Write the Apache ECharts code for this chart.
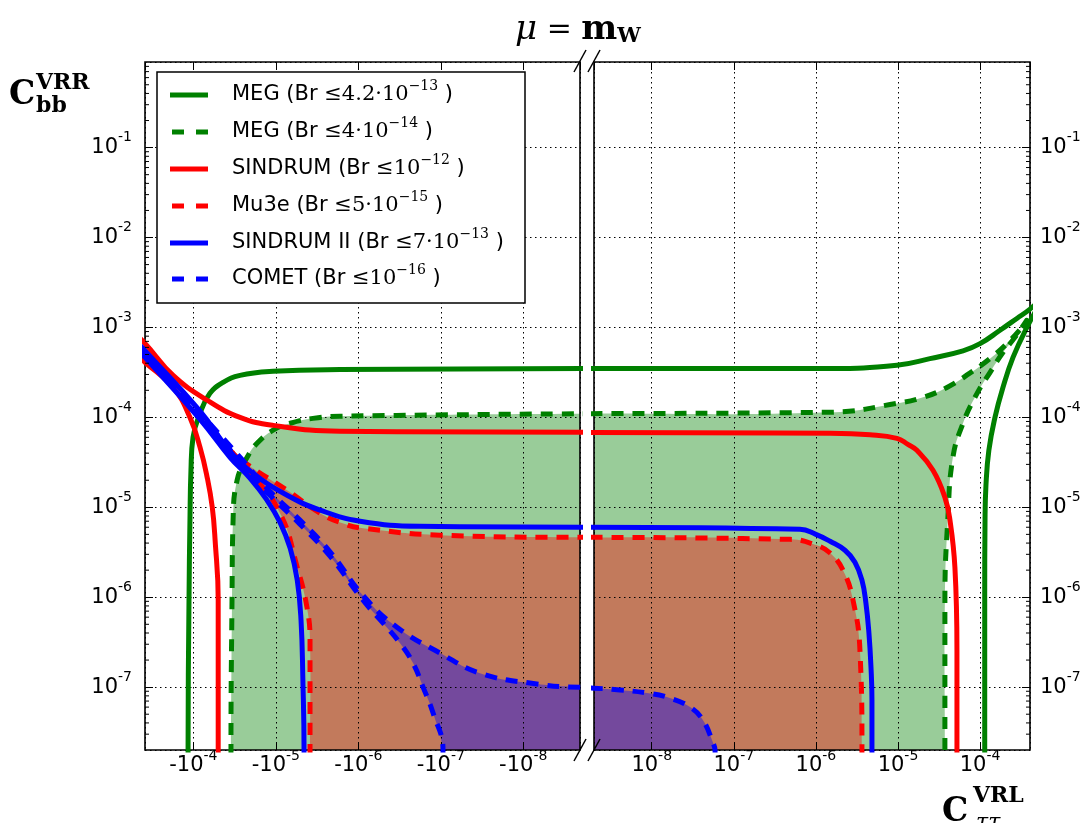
<!DOCTYPE html>
<html><head><meta charset="utf-8">
<script src="https://cdn.jsdelivr.net/npm/echarts@6/dist/echarts.min.js"></script>
<style>html,body{margin:0;padding:0;background:#fff}#c{width:1086px;height:823px}</style>
</head><body><div id="c"></div>
<script>
// ---------------- data ----------------
const legendNames = ['MEG', 'MEG', 'SINDRUM', 'Mu3e', 'SINDRUM II', 'COMET'];
const legendBound = ['4.2\u00b710', '4\u00b710', '10', '5\u00b710', '7\u00b710', '10'];
const legendExp   = ['\u221213', '\u221214', '\u221212', '\u221215', '\u221213', '\u221216'];
const xTickExps = [-8, -7, -6, -5, -4];
const yTickExps = [-7, -6, -5, -4, -3, -2, -1];

// curves: [C_tautau^VRL, C_bb^VRR], ordered along the contour (negative x = left panel)
const megSolid = [
  [-1.16e-4,1e-8],[-1.16e-4,2e-8],[-1.13e-4,9.3e-7],[-1.10e-4,7.2e-6],[-1.07e-4,2.58e-5],[-1.01e-4,6.0e-5],
  [-8.3e-5,1.11e-4],[-6.3e-5,1.85e-4],[-4.36e-5,2.45e-4],[-2.72e-5,2.93e-4],[-1.08e-5,3.25e-4],[-1.67e-6,3.4e-4],[-1e-9,3.5e-4],
  [1e-9,3.5e-4],[1.49e-6,3.5e-4],[9.7e-6,3.8e-4],[2.45e-5,4.5e-4],[6.2e-5,5.5e-4],[1e-4,6.6e-4],[1.75e-4,9.3e-4],
  [2.81e-4,1.26e-3],[4.06e-4,1.6e-3],[6e-4,2.2e-3],
  [3.72e-4,1e-3],[2.52e-4,4.64e-4],[1.9e-4,2.15e-4],[1.52e-4,1e-4],[1.28e-4,4.3e-5],[1.18e-4,1.75e-5],
  [1.15e-4,7.2e-6],[1.14e-4,9.3e-7],[1.14e-4,2e-8],[1.14e-4,1e-8]
];
const megDashed = [
  [-3.5e-5,1e-8],[-3.5e-5,2e-8],[-3.4e-5,9.3e-7],[-3.3e-5,7.2e-6],[-2.95e-5,2e-5],[-2.23e-5,3.6e-5],[-1.69e-5,5.15e-5],
  [-1.08e-5,7.2e-5],[-6.7e-6,8.6e-5],[-3.55e-6,9.75e-5],[-1.67e-6,1.03e-4],[-1e-9,1.1e-4],
  [1e-9,1.1e-4],[1.49e-6,1.14e-4],[9.7e-6,1.43e-4],[2.02e-5,1.67e-4],[3.95e-5,2.15e-4],[7.5e-5,3.1e-4],
  [1.32e-4,4.5e-4],[2.12e-4,6.6e-4],[3.24e-4,1.0e-3],[3.7e-4,1.2e-3],
  [2.66e-4,7.75e-4],[1.9e-4,5.27e-4],[1.32e-4,3.15e-4],[9.2e-5,1.85e-4],[6.2e-5,8.6e-5],[4.67e-5,3.6e-5],
  [4.06e-5,7.75e-6],[3.73e-5,9.3e-7],[3.73e-5,2e-8],[3.73e-5,1e-8]
];
const sindrum = [
  [-5e-5,1e-8],[-5e-5,2e-8],[-5e-5,9.3e-7],[-5.45e-5,4.3e-6],[-5.9e-5,1e-5],[-6.8e-5,2.15e-5],[-8.3e-5,4.64e-5],
  [-1.1e-4,1e-4],[-1.76e-4,2.15e-4],[-3.86e-4,4.1e-4],[-5.85e-4,5.7e-4],
  [-5.85e-4,9.5e-4],[-3.86e-4,6.64e-4],[-1.76e-4,2.93e-4],[-6.8e-5,1.55e-4],[-2.72e-5,1e-4],[-1.08e-5,8.15e-5],
  [-1.67e-6,7.0e-5],[-1e-9,6.8e-5],
  [1e-9,6.8e-5],[1.49e-6,6.65e-5],[4.56e-6,6.4e-5],[9.7e-6,5.85e-5],[1.32e-5,5.0e-5],[1.7e-5,4.3e-5],[2.67e-5,2.58e-5],
  [3.73e-5,1.29e-5],[4.3e-5,7.2e-6],[4.94e-5,2.15e-6],[5.23e-5,2.58e-7],[5.23e-5,2e-8],[5.23e-5,1e-8]
];
const mu3e = [
  [-3.85e-6,1e-8],[-3.85e-6,2e-8],[-3.85e-6,3.33e-7],[-4.2e-6,7.75e-7],[-5.5e-6,2.15e-6],[-8.9e-6,8.6e-6],
  [-2.05e-5,2.45e-5],[-3.4e-5,4.1e-5],
  [-2.05e-5,2.85e-5],[-7.3e-6,1.55e-5],[-2.9e-6,8.6e-6],[-1.45e-6,6.5e-6],[-8.8e-7,5.85e-6],[-1.02e-7,4.9e-6],
  [-2e-9,4.64e-6],[-1e-9,4.64e-6],
  [1e-9,4.64e-6],[4.84e-7,4.4e-6],[1e-6,3.8e-6],[1.49e-6,3.1e-6],[2.14e-6,2e-6],[2.83e-6,9.3e-7],
  [3.44e-6,2.58e-7],[3.64e-6,2e-8],[3.64e-6,1e-8]
];
const sindrumII = [
  [-4.55e-6,1e-8],[-4.55e-6,2e-8],[-4.7e-6,1.2e-7],[-4.95e-6,5.55e-7],[-5.5e-6,1.55e-6],[-6.7e-6,3.5e-6],
  [-8.9e-6,6.8e-6],[-1.28e-5,1.2e-5],[-2.05e-5,2.1e-5],[-3.6e-5,3.6e-5],[-8.3e-5,9.5e-5],[-3.86e-4,4.64e-4],[-5.85e-4,7e-4],
  [-5.85e-4,8.4e-4],[-3.86e-4,5.5e-4],[-8.3e-5,1.17e-4],[-3.6e-5,4.2e-5],[-1.89e-5,2.39e-5],[-7.3e-6,1.36e-5],
  [-2.9e-6,9.3e-6],[-9.5e-7,7.0e-6],[-1.79e-7,6.15e-6],[-1e-9,6.0e-6],
  [1e-9,6e-6],[6.4e-7,5.7e-6],[1e-6,5.0e-6],[1.49e-6,4.19e-6],[2.26e-6,3.33e-6],[2.99e-6,2.45e-6],[3.64e-6,1.55e-6],
  [4.07e-6,8.6e-7],[4.43e-6,3.98e-7],[4.69e-6,1.67e-7],[4.82e-6,7.2e-8],[4.82e-6,2e-8],[4.82e-6,1e-8]
];
const comet = [
  [-9.4e-8,1e-8],[-9.4e-8,2e-8],[-1.24e-7,5.15e-8],[-1.64e-7,1e-7],[-2.17e-7,1.85e-7],[-3.13e-7,3.1e-7],
  [-5e-7,5.15e-7],[-8.8e-7,9.3e-7],[-2.2e-6,2.86e-6],[-5.1e-6,6.5e-6],[-1.28e-5,1.47e-5],[-2.72e-5,3.24e-5],
  [-8.3e-5,1.06e-4],[-3.86e-4,5.0e-4],[-5.85e-4,7.6e-4],
  [-5.85e-4,8.0e-4],[-3.86e-4,5.25e-4],[-8.3e-5,1.12e-4],[-2.72e-5,3.6e-5],[-1.28e-5,1.63e-5],[-5.1e-6,7.2e-6],
  [-2.2e-6,3.2e-6],[-8.8e-7,1.05e-6],[-3.4e-7,4.64e-7],[-1.02e-7,2.39e-7],[-3.35e-8,1.43e-7],[-8.3e-9,1.11e-7],
  [-2e-9,1e-7],[-1e-9,1e-7],
  [1e-9,1e-7],[1.98e-9,9.75e-8],[4.1e-9,9.3e-8],[8.8e-9,8.6e-8],[1.53e-8,7.75e-8],[2.93e-8,6e-8],
  [4.2e-8,4.3e-8],[5.6e-8,2.39e-8],[5.9e-8,2e-8],[6e-8,1e-8]
];

// ---------------- styling / layout ----------------
const curves = [megSolid, megDashed, sindrum, mu3e, sindrumII, comet];
const curveColor = ['#008000', '#008000', '#ff0000', '#ff0000', '#0000ff', '#0000ff'];
const curveDashed = [false, true, false, true, false, true];
const fills = [
  {curve: megDashed, color: 'rgba(0,128,0,0.4)'},
  {curve: mu3e, color: 'rgba(255,0,0,0.4)'},
  {curve: comet, color: 'rgba(0,0,255,0.4)'}
];
const XL = {min: 2.05e-9, max: 3.86e-4};
const XR = {min: 1.98e-9, max: 4.06e-4};
const YR = {min: 2e-8, max: 0.895};
const FAR_X = 1e-11, FLOOR = 1e-10;   // closure of fill polygons, well outside the plot
const SMOOTH = 0.45;
const SANS = 'DejaVu Sans';
const SERIF = 'DejaVu Serif';
const DASH = [12, 9];

function part(pts, side) {
  return side === 0 ? pts.filter(p => p[0] < 0).map(p => [-p[0], p[1]]) : pts.filter(p => p[0] > 0);
}
function isDecade(v, list) {
  const l = Math.log10(v), e = Math.round(l);
  return Math.abs(l - e) < 1e-6 && list.indexOf(e) >= 0 ? e : null;
}
const richTick = {
  a: {fontFamily: SANS, fontSize: 21, color: '#000', lineHeight: 24},
  b: {fontFamily: SANS, fontSize: 14, color: '#000', lineHeight: 14, padding: [0, 0, 20, 0]}
};
function xFmt(prefix) {
  return v => { const e = isDecade(v, xTickExps); return e === null ? '' : '{a|' + prefix + '10}{b|' + e + '}'; };
}
function yFmt(v) { const e = isDecade(v, yTickExps); return e === null ? '' : '{a|10}{b|' + e + '}'; }

const gridLine = {show: true, lineStyle: {color: '#000', width: 1, type: [1.5, 3.5]}};
function xAxis(idx, rng, inverse, pos, labels, prefix) {
  return {
    gridIndex: idx, type: 'log', min: rng.min, max: rng.max, inverse: inverse, position: pos,
    axisLine: {show: false},
    axisTick: {show: true, inside: true, length: 8, lineStyle: {color: '#000', width: 1}},
    axisLabel: labels ? {show: true, formatter: xFmt(prefix), rich: richTick, margin: 4, showMinLabel: false, showMaxLabel: false} : {show: false},
    splitLine: labels ? gridLine : {show: false},
    minorTick: {show: false}
  };
}
function yAxis(idx, pos) {
  return {
    gridIndex: idx, type: 'log', min: YR.min, max: YR.max, position: pos,
    axisLine: {show: false},
    axisTick: {show: true, inside: true, length: 8, lineStyle: {color: '#000', width: 1}},
    axisLabel: {show: true, formatter: yFmt, rich: richTick, margin: pos === 'left' ? 13 : 10, showMinLabel: false, showMaxLabel: false},
    splitLine: gridLine
  };
}

const series = [];
[0, 1].forEach(side => {
  fills.forEach(f => {
    const P = part(f.curve, side);
    const poly = side === 0
      ? P.concat([[FAR_X, P[P.length - 1][1]], [FAR_X, FLOOR], [P[0][0], FLOOR]])
      : [[FAR_X, FLOOR], [FAR_X, P[0][1]]].concat(P, [[P[P.length - 1][0], FLOOR]]);
    series.push({
      type: 'custom', xAxisIndex: side, yAxisIndex: side, clip: true, silent: true, z: -1,
      data: [P[0]],
      renderItem: (params, api) => ({
        type: 'polygon', shape: {points: poly.map(p => api.coord(p)), smooth: SMOOTH},
        style: {fill: f.color}
      })
    });
  });
});
[0, 1].forEach(side => {
  curves.forEach((c, i) => {
    series.push({
      type: 'line', xAxisIndex: side, yAxisIndex: side, data: part(c, side),
      showSymbol: false, symbol: 'none', clip: true, silent: true, z: 3 + i, smooth: SMOOTH,
      lineStyle: {color: curveColor[i], width: 5, type: curveDashed[i] ? DASH : 'solid', cap: 'butt', join: 'round'}
    });
  });
});
// minor ticks of the log y axes
const minorVals = [];
for (let e = -8; e <= -1; e++) for (let k = 2; k <= 9; k++) {
  const v = k * Math.pow(10, e); if (v > YR.min && v < YR.max) minorVals.push(v);
}
[0, 1].forEach(side => {
  series.push({
    type: 'custom', xAxisIndex: side, yAxisIndex: side, silent: true, z: 10, clip: false,
    data: minorVals.map(v => [1e-6, v]),
    renderItem: (params, api) => {
      const cs = params.coordSys;
      const y = api.coord([api.value(0), api.value(1)])[1];
      const x0 = side === 0 ? cs.x : cs.x + cs.width;
      const dx = side === 0 ? 4 : -4;
      return {type: 'line', shape: {x1: x0, y1: y, x2: x0 + dx, y2: y}, style: {stroke: '#000', lineWidth: 1}};
    }
  });
});

// legend and texts as graphics
const graphics = [];
const rowY = [95, 132, 169, 206, 243, 279];
graphics.push({type: 'rect', z: 100, shape: {x: 157, y: 72, width: 368, height: 231},
  style: {fill: '#fff', stroke: '#000', lineWidth: 1.5}});
legendNames.forEach((n, i) => {
  const y = rowY[i];
  graphics.push({type: 'line', z: 101,
    shape: curveDashed[i] ? {x1: 172, y1: y, x2: 208, y2: y} : {x1: 170, y1: y, x2: 208, y2: y},
    style: {stroke: curveColor[i], lineWidth: 5, lineDash: curveDashed[i] ? [12, 12] : null}});
  graphics.push({type: 'text', z: 101, x: 232, y: y,
    style: {text: '{s|' + n + ' (Br }{m|\u2264' + legendBound[i] + '}{p|' + legendExp[i] + '}{s| )}',
      verticalAlign: 'middle', align: 'left',
      rich: {
        s: {fontFamily: SANS, fontSize: 21, fill: '#000', lineHeight: 26},
        m: {fontFamily: SERIF, fontSize: 21, fill: '#000', lineHeight: 26},
        p: {fontFamily: SERIF, fontSize: 14, fill: '#000', lineHeight: 14, padding: [0, 0, 18, 0]}
      }}});
});
// title
graphics.push({type: 'text', x: 578, y: 30, style: {
  text: '{i|\u03bc}{n| = }{b|m}{w|W}', align: 'center', verticalAlign: 'middle',
  rich: {
    i: {fontFamily: SERIF, fontStyle: 'italic', fontSize: 34, fill: '#000'},
    n: {fontFamily: SERIF, fontSize: 30, fill: '#000'},
    b: {fontFamily: SERIF, fontWeight: 'bold', fontSize: 34, fill: '#000'},
    w: {fontFamily: SERIF, fontWeight: 'bold', fontSize: 21, fill: '#000', padding: [14, 0, 0, 0]}
  }}});
// y axis title
graphics.push({type: 'text', x: 9, y: 95, style: {text: 'C', font: 'bold 33px "DejaVu Serif"', fill: '#000', verticalAlign: 'middle'}});
graphics.push({type: 'text', x: 36, y: 83, style: {text: 'VRR', font: 'bold 22px "DejaVu Serif"', fill: '#000', verticalAlign: 'middle'}});
graphics.push({type: 'text', x: 36, y: 106, style: {text: 'bb', font: 'bold 22px "DejaVu Serif"', fill: '#000', verticalAlign: 'middle'}});
// x axis title
graphics.push({type: 'text', x: 942, y: 812, style: {text: 'C', font: 'bold 33px "DejaVu Serif"', fill: '#000', verticalAlign: 'middle'}});
graphics.push({type: 'text', x: 973, y: 796, style: {text: 'VRL', font: 'bold 22px "DejaVu Serif"', fill: '#000', verticalAlign: 'middle'}});
graphics.push({type: 'text', x: 976, y: 823, style: {text: '\u03c4\u03c4', font: 'italic 22px "DejaVu Serif"', fill: '#000', verticalAlign: 'middle'}});
// axis break marks
[[574, 72, 586, 50], [588, 72, 600, 50], [574, 761, 586, 739], [588, 761, 600, 739]].forEach(s => {
  graphics.push({type: 'line', z: 50, shape: {x1: s[0], y1: s[1], x2: s[2], y2: s[3]}, style: {stroke: '#000', lineWidth: 1.5}});
});

const option = {
  backgroundColor: '#fff',
  animation: false,
  grid: [
    {left: 145, top: 62, width: 435, height: 688, show: true, borderColor: '#000', borderWidth: 1.6, backgroundColor: 'transparent'},
    {left: 594, top: 62, width: 436, height: 688, show: true, borderColor: '#000', borderWidth: 1.6, backgroundColor: 'transparent'}
  ],
  xAxis: [
    xAxis(0, XL, true, 'bottom', true, '-'),
    xAxis(1, XR, false, 'bottom', true, ''),
    xAxis(0, XL, true, 'top', false, ''),
    xAxis(1, XR, false, 'top', false, '')
  ],
  yAxis: [yAxis(0, 'left'), yAxis(1, 'right')],
  series: series,
  graphic: graphics
};
const chart = echarts.init(document.getElementById('c'));
chart.setOption(option);
</script></body></html>
